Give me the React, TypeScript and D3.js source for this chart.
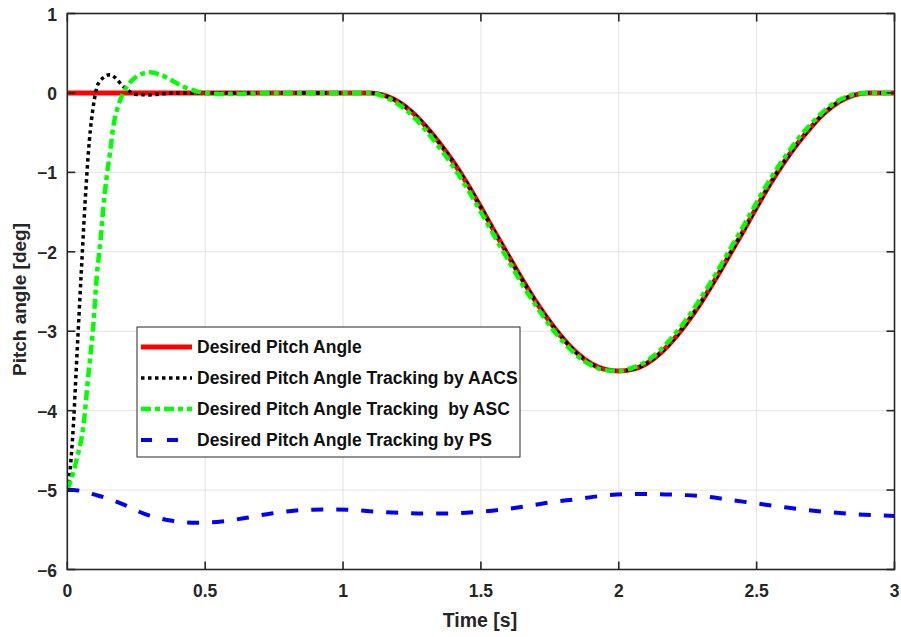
import React from "react";
import * as d3 from "d3";

// Axis ticks
const xTicks = [0, 0.5, 1, 1.5, 2, 2.5, 3];
const xTickLabels = ["0", "0.5", "1", "1.5", "2", "2.5", "3"];
const yTicks = [1, 0, -1, -2, -3, -4, -5, -6];
const yTickLabels = ["1", "0", "\u22121", "\u22122", "\u22123", "\u22124", "\u22125", "\u22126"];

// Desired pitch angle reference [deg]
const desiredTime = [0, 1.1, 1.15, 1.2, 1.25, 1.3, 1.35, 1.4, 1.45, 1.5, 1.55, 1.6, 1.65, 1.7, 1.75, 1.8, 1.85, 1.9, 1.95, 2.0, 2.05, 2.1, 2.15, 2.2, 2.25, 2.3, 2.35, 2.4, 2.45, 2.5, 2.55, 2.6, 2.65, 2.7, 2.75, 2.8, 2.85, 2.9, 3.0];
const desiredPitch = [0, 0, -0.03, -0.11, -0.24, -0.42, -0.63, -0.87, -1.14, -1.44, -1.75, -2.05, -2.35, -2.63, -2.88, -3.1, -3.28, -3.41, -3.48, -3.5, -3.48, -3.41, -3.28, -3.1, -2.88, -2.63, -2.35, -2.05, -1.75, -1.44, -1.14, -0.87, -0.63, -0.42, -0.24, -0.11, -0.03, 0, 0];

// Tracking by AACS
const aacsTime = [0, 0.01, 0.02, 0.035, 0.05, 0.065, 0.08, 0.095, 0.11, 0.13, 0.155, 0.18, 0.2, 0.225, 0.25, 0.3, 0.35, 0.4, 1.1, 1.15, 1.2, 1.25, 1.3, 1.35, 1.4, 1.45, 1.5, 1.55, 1.6, 1.65, 1.7, 1.75, 1.8, 1.85, 1.9, 1.95, 2.0, 2.05, 2.1, 2.15, 2.2, 2.25, 2.3, 2.35, 2.4, 2.45, 2.5, 2.55, 2.6, 2.65, 2.7, 2.75, 2.8, 2.85, 2.9, 3.0];
const aacsPitch = [-5, -4.75, -4.3, -3.3, -2.3, -1.35, -0.6, -0.15, 0.1, 0.19, 0.23, 0.17, 0.09, 0.02, -0.02, -0.025, -0.01, 0, 0, -0.03, -0.11, -0.24, -0.42, -0.63, -0.87, -1.14, -1.44, -1.75, -2.05, -2.35, -2.63, -2.88, -3.1, -3.28, -3.41, -3.48, -3.5, -3.48, -3.41, -3.28, -3.1, -2.88, -2.63, -2.35, -2.05, -1.75, -1.44, -1.14, -0.87, -0.63, -0.42, -0.24, -0.11, -0.03, 0, 0];

// Tracking by ASC
const ascTime = [0, 0.02, 0.035, 0.06, 0.075, 0.095, 0.107, 0.12, 0.13, 0.143, 0.155, 0.167, 0.185, 0.203, 0.227, 0.264, 0.3, 0.336, 0.373, 0.42, 0.47, 0.55, 0.65, 0.75, 1.1, 1.15, 1.2, 1.25, 1.3, 1.35, 1.4, 1.45, 1.5, 1.55, 1.6, 1.65, 1.7, 1.75, 1.8, 1.85, 1.9, 1.95, 2.0, 2.05, 2.1, 2.15, 2.2, 2.25, 2.3, 2.35, 2.4, 2.45, 2.5, 2.55, 2.6, 2.65, 2.7, 2.75, 2.8, 2.85, 2.9, 3.0];
const ascPitch = [-5, -4.8, -4.6, -4.15, -3.6, -2.9, -2.3, -1.88, -1.47, -1.05, -0.75, -0.42, -0.16, 0.0, 0.13, 0.23, 0.26, 0.23, 0.17, 0.08, 0.02, -0.015, -0.01, 0, 0, -0.05, -0.14, -0.28, -0.47, -0.69, -0.93, -1.2, -1.5, -1.81, -2.11, -2.41, -2.68, -2.93, -3.14, -3.31, -3.43, -3.49, -3.5, -3.46, -3.38, -3.24, -3.05, -2.83, -2.57, -2.29, -1.99, -1.69, -1.38, -1.08, -0.82, -0.58, -0.38, -0.21, -0.09, -0.02, 0, 0];

// Tracking by PS
const psTime = [0, 0.02, 0.11, 0.2, 0.28, 0.38, 0.47, 0.56, 0.65, 0.74, 0.83, 0.93, 1.02, 1.11, 1.2, 1.29, 1.38, 1.48, 1.57, 1.66, 1.75, 1.85, 1.94, 2.03, 2.12, 2.21, 2.31, 2.4, 2.49, 2.58, 2.67, 2.76, 2.85, 2.95, 3.0];
const psPitch = [-5, -5.0, -5.068, -5.177, -5.299, -5.387, -5.412, -5.395, -5.349, -5.294, -5.257, -5.244, -5.248, -5.269, -5.286, -5.294, -5.294, -5.277, -5.248, -5.206, -5.156, -5.113, -5.072, -5.05, -5.05, -5.059, -5.08, -5.122, -5.164, -5.206, -5.248, -5.277, -5.302, -5.32, -5.325];

const W = 901;
const H = 637;
const left = 67.3;
const right = 894.5;
const top = 13.5;
const bottom = 569.5;

const font = "'Liberation Sans', Arial, sans-serif";

type Series = {
  name: string;
  time: number[];
  pitch: number[];
  color: string;
  width: number;
  dash?: string;
  legendDash?: string;
};

const series: Series[] = [
  { name: "Desired Pitch Angle", time: desiredTime, pitch: desiredPitch, color: "#ff0000", width: 5 },
  { name: "Desired Pitch Angle Tracking by AACS", time: aacsTime, pitch: aacsPitch, color: "#000000", width: 3.5, dash: "3.5,3.5" },
  { name: "Desired Pitch Angle Tracking  by ASC", time: ascTime, pitch: ascPitch, color: "#00ff00", width: 4.5, dash: "10,4,5,4", legendDash: "10,4,5,4" },
  { name: "Desired Pitch Angle Tracking by PS", time: psTime, pitch: psPitch, color: "#0000ff", width: 4, dash: "12,13", legendDash: "11,15" },
];

export default function App() {
  const x = d3.scaleLinear().domain([0, 3]).range([left, right]);
  const y = d3.scaleLinear().domain([-6, 1]).range([bottom, top]);

  const lineFor = (s: Series) =>
    d3
      .line<number>()
      .x((_, i) => x(s.time[i]))
      .y((v) => y(v))
      .curve(d3.curveMonotoneX)(s.pitch) || "";

  const frame = "#262626";
  const grid = "#e3e3e3";
  const tickLen = 8;

  // legend geometry
  const lgX = 137;
  const lgY = 327;
  const lgW = 383;
  const lgH = 130;
  const rowY = [347, 378, 409, 440];

  return (
    <div style={{ position: "absolute", left: 0, top: 0 }}>
      <svg width={W} height={H} style={{ display: "block", background: "#fff" }}>
        <rect x={0} y={0} width={W} height={H} fill="#fff" />
        <rect x={left} y={top} width={right - left} height={bottom - top} fill="#fff" />
        {/* grid */}
        {xTicks.map((t) => (
          <line key={"gx" + t} x1={x(t)} x2={x(t)} y1={top} y2={bottom} stroke={grid} strokeWidth={1} />
        ))}
        {yTicks.map((t) => (
          <line key={"gy" + t} x1={left} x2={right} y1={y(t)} y2={y(t)} stroke={grid} strokeWidth={1} />
        ))}
        {/* curves */}
        <defs>
          <clipPath id="plotClip">
            <rect x={left} y={top} width={right - left} height={bottom - top} />
          </clipPath>
        </defs>
        <g clipPath="url(#plotClip)">
          {series.map((s) => (
            <path
              key={s.name}
              d={lineFor(s)}
              fill="none"
              stroke={s.color}
              strokeWidth={s.width}
              strokeDasharray={s.dash}
              strokeLinejoin="round"
            />
          ))}
        </g>
        {/* frame and ticks */}
        <rect x={left} y={top} width={right - left} height={bottom - top} fill="none" stroke={frame} strokeWidth={1.6} />
        {xTicks.map((t) => (
          <g key={"tx" + t}>
            <line x1={x(t)} x2={x(t)} y1={bottom} y2={bottom - tickLen} stroke={frame} strokeWidth={1.6} />
            <line x1={x(t)} x2={x(t)} y1={top} y2={top + tickLen} stroke={frame} strokeWidth={1.6} />
          </g>
        ))}
        {yTicks.map((t) => (
          <g key={"ty" + t}>
            <line x1={left} x2={left + tickLen} y1={y(t)} y2={y(t)} stroke={frame} strokeWidth={1.6} />
            <line x1={right} x2={right - tickLen} y1={y(t)} y2={y(t)} stroke={frame} strokeWidth={1.6} />
          </g>
        ))}
        {/* tick labels */}
        {xTicks.map((t, i) => (
          <text key={"lx" + t} x={x(t)} y={597} textAnchor="middle" fontFamily={font} fontWeight="bold" fontSize={17.5} fill={frame}>
            {xTickLabels[i]}
          </text>
        ))}
        {yTicks.map((t, i) => (
          <text key={"ly" + t} x={57} y={y(t) + 7} textAnchor="end" fontFamily={font} fontWeight="bold" fontSize={17.5} fill={frame}>
            {yTickLabels[i]}
          </text>
        ))}
        {/* axis titles */}
        <text x={480} y={627} textAnchor="middle" fontFamily={font} fontWeight="bold" fontSize={19.5} fill={frame}>
          Time [s]
        </text>
        <text
          transform={`translate(26, ${(top + bottom) / 2 + 8}) rotate(-90)`}
          textAnchor="middle"
          fontFamily={font}
          fontWeight="bold"
          fontSize={19}
          fill={frame}
        >
          Pitch angle [deg]
        </text>
        {/* legend */}
        <rect x={lgX} y={lgY} width={lgW} height={lgH} fill="#fff" stroke={frame} strokeWidth={1} />
        {series.map((s, i) => (
          <g key={"lg" + i}>
            <line
              x1={141}
              x2={192}
              y1={rowY[i]}
              y2={rowY[i]}
              stroke={s.color}
              strokeWidth={s.width}
              strokeDasharray={s.legendDash ?? s.dash}
            />
            <text
              x={197}
              y={rowY[i] + 6}
              fontFamily={font}
              fontWeight="bold"
              fontSize={17.5}
              fill="#111"
              style={{ whiteSpace: "pre" }}
            >
              {s.name}
            </text>
          </g>
        ))}
      </svg>
    </div>
  );
}
